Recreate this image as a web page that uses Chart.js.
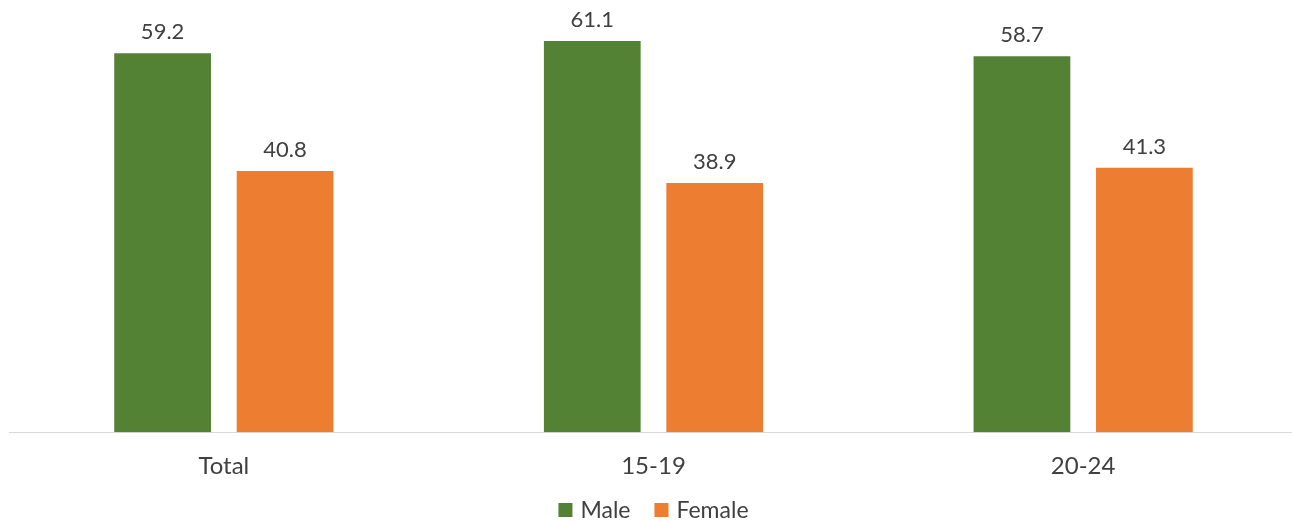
<!DOCTYPE html>
<html>
<head>
<meta charset="utf-8">
<script src="https://cdn.jsdelivr.net/npm/chart.js@4.4.1/dist/chart.umd.min.js"></script>
<style>
  html, body { margin: 0; padding: 0; background: #ffffff; overflow: hidden; }
  #wrap { width: 1298px; height: 522px; }
</style>
</head>
<body>
<div id="wrap"><canvas id="chart" width="1298" height="522"></canvas></div>
<script>
const categories = ['Total', '15-19', '20-24'];
const maleValues = [59.2, 61.1, 58.7];
const femaleValues = [40.8, 38.9, 41.3];

const GREEN = '#548235';
const ORANGE = '#ed7d31';
const TEXT = '#404040';
const FONT = 'Lato, "Open Sans", sans-serif';

// value labels drawn above each bar
const barValueLabels = {
    id: 'barValueLabels',
    afterDatasetsDraw(chart) {
        const ctx = chart.ctx;
        ctx.save();
        ctx.font = '22px ' + FONT;
        ctx.fillStyle = TEXT;
        ctx.textAlign = 'center';
        ctx.textBaseline = 'bottom';
        chart.data.datasets.forEach((ds, i) => {
            chart.getDatasetMeta(i).data.forEach((bar, j) => {
                ctx.fillText(ds.data[j].toFixed(1), bar.x, bar.y - 10);
            });
        });
        ctx.restore();
    }
};

// legend row under the axis: square swatch, label, wide gap between entries
const bottomLegend = {
    id: 'bottomLegend',
    afterDraw(chart) {
        const ctx = chart.ctx;
        const box = 14, boxGap = 8, itemGap = 24, y = 510;
        ctx.save();
        ctx.font = '23px ' + FONT;
        ctx.textBaseline = 'middle';
        ctx.textAlign = 'left';
        const items = chart.data.datasets.map(ds => ({
            text: ds.label,
            color: ds.backgroundColor,
            w: box + boxGap + ctx.measureText(ds.label).width
        }));
        const total = items.reduce((s, it) => s + it.w, 0) + itemGap * (items.length - 1);
        const area = chart.chartArea;
        let x = (area.left + area.right) / 2 - total / 2;
        items.forEach(it => {
            ctx.fillStyle = it.color;
            ctx.fillRect(x, y - box / 2, box, box);
            ctx.fillStyle = TEXT;
            ctx.fillText(it.text, x + box + boxGap, y + 1);
            x += it.w + itemGap;
        });
        ctx.restore();
    }
};

new Chart(document.getElementById('chart'), {
    type: 'bar',
    data: {
        labels: categories,
        datasets: [
            { label: 'Male', data: maleValues, backgroundColor: GREEN },
            { label: 'Female', data: femaleValues, backgroundColor: ORANGE }
        ]
    },
    options: {
        responsive: false,
        animation: false,
        categoryPercentage: 0.57,
        barPercentage: 0.79,
        layout: { padding: { left: 9, right: 0, top: 0, bottom: 21 } },
        scales: {
            x: {
                grid: { display: false, drawTicks: false },
                border: { display: true, color: '#d9d9d9', width: 1 },
                ticks: { color: TEXT, font: { family: FONT, size: 24 }, padding: 20 }
            },
            y: {
                display: false,
                min: 0,
                max: 67.5
            }
        },
        plugins: {
            legend: { display: false },
            tooltip: { enabled: false }
        }
    },
    plugins: [barValueLabels, bottomLegend]
});
</script>
</body>
</html>
